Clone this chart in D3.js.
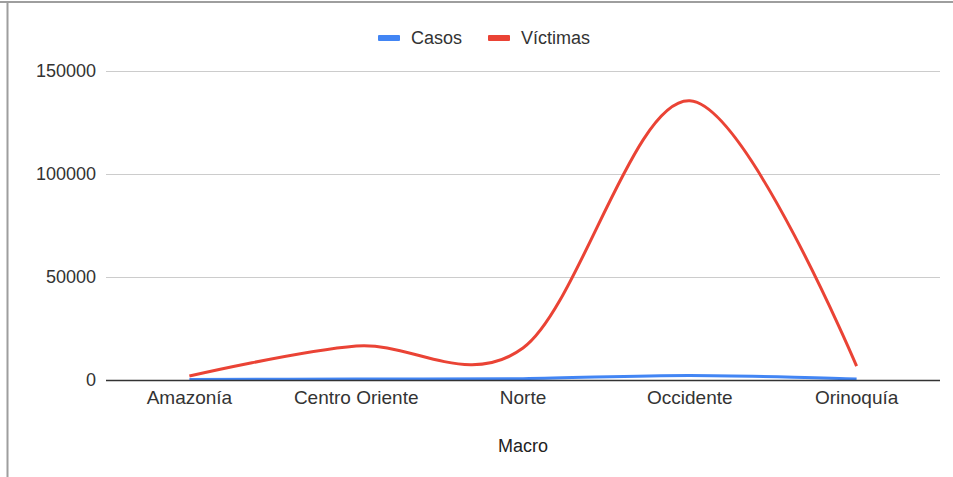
<!DOCTYPE html>
<html>
<head>
<meta charset="utf-8">
<script src="https://cdn.jsdelivr.net/npm/d3@7"></script>
<style>
  html, body { margin: 0; padding: 0; background: #fff; }
  svg { display: block; font-family: "Liberation Sans", Arial, sans-serif; }
</style>
</head>
<body>
<svg id="chart" width="953" height="477"></svg>
<script>
// Regions (macro) on the x axis
const categories = ["Amazonía", "Centro Oriente", "Norte", "Occidente", "Orinoquía"];
// Series values per region
const casos = [250, 450, 650, 2200, 500];
const victimas = [1900, 16500, 15500, 135500, 6700];
const seriesNames = ["Casos", "Víctimas"];
const seriesColors = ["#4285f4", "#ea4335"];
// Y axis ticks
const yTicks = [0, 50000, 100000, 150000];

const svg = d3.select("#chart");
const W = 953, H = 477;
const margin = { left: 106, right: 13, top: 71, bottom: 97 };

// Frame lines (top and left edges)
svg.append("line").attr("x1", 0).attr("x2", W).attr("y1", 2).attr("y2", 2)
  .attr("stroke", "#9e9e9e").attr("stroke-width", 2);
svg.append("line").attr("x1", 7.5).attr("x2", 7.5).attr("y1", 2).attr("y2", H)
  .attr("stroke", "#9e9e9e").attr("stroke-width", 2);

const x = d3.scaleBand().domain(categories)
  .range([margin.left, W - margin.right]);
const y = d3.scaleLinear().domain([0, 150000])
  .range([H - margin.bottom, margin.top]);

// Gridlines and y tick labels
const yAxis = d3.axisLeft(y).tickValues(yTicks).tickFormat(d3.format("d"))
  .tickSize(-(W - margin.right - margin.left)).tickPadding(10);
const gy = svg.append("g").attr("transform", `translate(${margin.left},0)`).call(yAxis);
gy.select(".domain").remove();
gy.selectAll(".tick line").attr("stroke", "#cccccc").attr("stroke-width", 1);
gy.selectAll(".tick text").attr("fill", "#333").style("font-size", "18px")
  .attr("x", -10);

// X tick labels
const xAxis = d3.axisBottom(x).tickSize(0).tickPadding(11);
const gx = svg.append("g").attr("transform", `translate(0,${y(0)})`).call(xAxis);
gx.select(".domain").remove();
gx.selectAll(".tick text").attr("fill", "#333").style("font-size", "19px");

// Series lines
const line = d3.line()
  .x((d, i) => x(categories[i]) + x.bandwidth() / 2)
  .y(d => y(d))
  .curve(d3.curveCardinal.tension(0));

[casos, victimas].forEach((vals, k) => {
  svg.append("path").datum(vals)
    .attr("fill", "none")
    .attr("stroke", seriesColors[k])
    .attr("stroke-width", 3)
    .attr("stroke-linejoin", "round")
    .attr("d", line);
});

// Zero baseline drawn over the series
svg.append("line")
  .attr("x1", margin.left).attr("x2", W - margin.right)
  .attr("y1", y(0) + 0.5).attr("y2", y(0) + 0.5)
  .attr("stroke", "#333").attr("stroke-width", 1.5);

// X axis title
svg.append("text").attr("x", x("Norte") + x.bandwidth() / 2).attr("y", 452)
  .attr("text-anchor", "middle").attr("fill", "#222").style("font-size", "18px")
  .text("Macro");

// Legend
const legendItems = [{ x: 378, tx: 411 }, { x: 488, tx: 521 }];
legendItems.forEach((p, k) => {
  svg.append("rect").attr("x", p.x).attr("y", 35).attr("width", 22).attr("height", 6)
    .attr("rx", 1).attr("fill", seriesColors[k]);
  svg.append("text").attr("x", p.tx).attr("y", 44).attr("fill", "#333")
    .style("font-size", "18px").text(seriesNames[k]);
});
</script>
</body>
</html>
